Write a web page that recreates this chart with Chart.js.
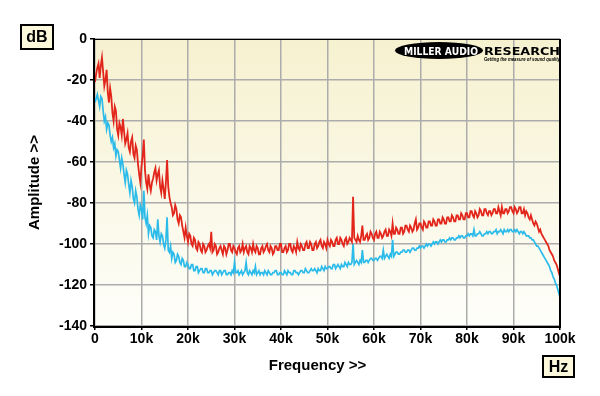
<!DOCTYPE html>
<html>
<head>
<meta charset="utf-8">
<script src="https://cdn.jsdelivr.net/npm/chart.js@4.4.1/dist/chart.umd.min.js"></script>
<style>
  html, body { margin: 0; padding: 0; background: #ffffff; }
  #wrap { width: 600px; height: 396px; position: relative; }
</style>
</head>
<body>
<div id="wrap"><canvas id="noiseChart" width="600" height="396"></canvas></div>
<script>
// FFT bins, every 250 Hz from 0 to 100 kHz
const freqStep = 250;
const binCount = 401;
const freq = Array.from({ length: binCount }, (_, i) => i * freqStep);

const xTicks = [0, 10000, 20000, 30000, 40000, 50000, 60000, 70000, 80000, 90000, 100000];
const yTicks = [0, -20, -40, -60, -80, -100, -120, -140];

// red trace (dB), one row = 5 kHz
const redDb = [
  -21, -17, -14, -12, -19, -13, -9, -16, -23, -20, -15, -26, -31, -24, -28, -36, -40, -33, -35, -44,
  -47, -41, -43, -47, -39, -45, -51, -49, -46, -53, -55, -50, -48, -56, -58, -52, -54, -61, -66, -70,
  -62, -57, -49, -64, -70, -73, -66, -71, -74, -70, -68, -65, -63, -69, -66, -64, -72, -75, -69, -73,
  -78, -70, -59, -72, -77, -80, -82, -86, -85, -81, -83, -88, -90, -86, -87, -91, -94, -97, -92, -96,
  -99, -95, -96, -100, -101, -97, -98, -102, -103, -99, -100, -103, -104, -100, -101, -104, -103, -101, -100, -102,
  -94, -104, -103, -100, -101, -105, -104, -102, -101, -103, -105, -101, -102, -105, -103, -100, -100, -103, -104, -101,
  -102, -104, -105, -102, -101, -104, -103, -100, -104, -102, -101, -104, -105, -101, -102, -104, -100, -103, -104, -101,
  -102, -105, -105, -102, -101, -104, -103, -101, -100, -103, -104, -101, -102, -105, -104, -101, -101, -103, -103, -100,
  -100, -104, -104, -102, -101, -104, -103, -100, -100, -103, -104, -101, -102, -104, -99, -102, -103, -100, -101, -103,
  -103, -100, -99, -102, -102, -99, -100, -103, -103, -100, -99, -102, -101, -99, -98, -101, -102, -99, -100, -102,
  -98, -100, -101, -98, -99, -101, -101, -98, -97, -100, -100, -97, -98, -100, -101, -98, -97, -100, -99, -97,
  -98, -99, -77, -97, -98, -99, -96, -98, -99, -96, -91, -98, -98, -96, -95, -98, -97, -94, -95, -97,
  -98, -95, -94, -97, -97, -94, -95, -97, -96, -94, -93, -96, -96, -93, -94, -96, -90, -95, -95, -92,
  -93, -95, -95, -92, -92, -95, -94, -91, -91, -93, -94, -91, -92, -94, -93, -90, -88, -93, -92, -90,
  -90, -92, -93, -89, -90, -92, -92, -89, -89, -91, -91, -88, -89, -91, -91, -88, -88, -90, -90, -87,
  -88, -90, -90, -87, -87, -89, -89, -86, -87, -89, -89, -86, -86, -88, -88, -85, -86, -88, -88, -85,
  -85, -87, -87, -84, -84, -86, -87, -84, -85, -87, -86, -83, -84, -86, -86, -83, -83, -85, -86, -84,
  -84, -86, -85, -83, -83, -85, -85, -82, -84, -86, -82, -85, -85, -83, -83, -85, -84, -82, -82, -84,
  -85, -82, -83, -85, -84, -82, -82, -85, -85, -83, -86, -84, -85, -87, -88, -86, -88, -90, -91, -89,
  -90, -92, -94, -93, -95, -96, -97, -98, -99, -100, -101, -103, -104, -105, -106, -108, -109, -110, -112, -114,
  -116
];

// cyan trace (dB), one row = 5 kHz
const cyanDb = [
  -31, -29, -27, -30, -33, -28, -29, -35, -40, -38, -44, -41, -42, -47, -50, -48, -53, -51, -57, -54,
  -55, -59, -63, -58, -61, -66, -70, -64, -66, -71, -75, -69, -72, -78, -80, -74, -77, -83, -86, -81,
  -83, -88, -74, -87, -90, -86, -95, -91, -92, -96, -97, -93, -94, -98, -88, -96, -99, -95, -96, -100,
  -102, -98, -87, -103, -104, -101, -107, -104, -105, -109, -108, -105, -106, -109, -110, -107, -108, -111, -111, -109,
  -110, -112, -112, -110, -110, -113, -113, -111, -111, -114, -113, -112, -112, -114, -114, -112, -112, -114, -114, -113,
  -113, -115, -114, -113, -113, -114, -115, -113, -113, -115, -114, -113, -113, -115, -115, -114, -114, -115, -113, -114,
  -109, -114, -114, -113, -115, -114, -113, -115, -114, -113, -109, -114, -115, -113, -114, -115, -113, -114, -111, -115,
  -114, -113, -115, -114, -114, -115, -113, -114, -115, -113, -114, -115, -115, -114, -114, -113, -113, -115, -115, -114,
  -114, -115, -115, -113, -114, -115, -113, -114, -114, -115, -115, -113, -113, -114, -114, -115, -114, -113, -113, -114,
  -114, -112, -113, -114, -114, -113, -112, -113, -113, -112, -113, -114, -112, -113, -113, -111, -112, -113, -111, -112,
  -112, -111, -111, -112, -112, -110, -110, -112, -111, -110, -111, -112, -110, -111, -111, -109, -110, -111, -109, -110,
  -110, -109, -100, -110, -109, -108, -109, -110, -108, -109, -103, -109, -109, -108, -108, -109, -108, -107, -107, -108,
  -108, -107, -107, -108, -107, -106, -106, -107, -103, -107, -106, -105, -106, -107, -105, -106, -98, -106, -105, -104,
  -104, -105, -105, -104, -104, -103, -103, -104, -104, -103, -103, -104, -103, -102, -102, -103, -103, -102, -102, -101,
  -102, -101, -101, -102, -101, -100, -101, -100, -100, -101, -100, -99, -100, -99, -99, -100, -99, -98, -99, -98,
  -98, -99, -99, -98, -98, -97, -98, -97, -97, -98, -98, -97, -97, -96, -97, -96, -96, -97, -97, -96,
  -96, -95, -96, -95, -95, -96, -93, -96, -96, -95, -95, -94, -95, -96, -96, -95, -95, -94, -95, -94,
  -94, -95, -95, -94, -94, -93, -95, -94, -94, -93, -94, -95, -93, -94, -94, -93, -94, -93, -93, -94,
  -94, -93, -94, -93, -94, -95, -94, -94, -95, -94, -95, -96, -96, -96, -97, -97, -98, -98, -99, -100,
  -101, -101, -102, -103, -104, -105, -106, -107, -108, -109, -110, -111, -113, -114, -116, -117, -119, -120, -122, -124,
  -126
];

const FONT = "'Liberation Sans', Arial, sans-serif";

function toPoints(values) {
  return values.map((v, i) => ({ x: freq[i], y: v }));
}

function labelBox(ctx, text, x, y, w, h) {
  ctx.save();
  ctx.fillStyle = "#fbf8dc";
  ctx.fillRect(x, y, w, h);
  ctx.strokeStyle = "#000";
  ctx.lineWidth = 2;
  ctx.strokeRect(x, y, w, h);
  ctx.fillStyle = "#000";
  ctx.font = "bold 16px " + FONT;
  ctx.textAlign = "center";
  ctx.textBaseline = "middle";
  ctx.fillText(text, x + w / 2, y + h / 2 + 1);
  ctx.restore();
}

// squeeze/stretch a text into a given width
function fitText(ctx, text, x, y, width) {
  const w = ctx.measureText(text).width;
  ctx.save();
  ctx.translate(x, y);
  ctx.scale(width / w, 1);
  ctx.textAlign = "left";
  ctx.fillText(text, 0, 0);
  ctx.restore();
}

const decorPlugin = {
  id: "decor",
  beforeDraw(chart) {
    const { ctx, chartArea: a } = chart;
    const g = ctx.createLinearGradient(0, a.top, 0, a.bottom);
    g.addColorStop(0, "#f6f1cf");
    g.addColorStop(1, "#fefefa");
    ctx.save();
    ctx.fillStyle = g;
    ctx.fillRect(a.left, a.top, a.right - a.left, a.bottom - a.top);
    ctx.restore();
  },
  afterDraw(chart) {
    const { ctx, chartArea: a } = chart;
    ctx.save();
    // frame
    ctx.strokeStyle = "#000";
    ctx.lineWidth = 1;
    ctx.beginPath();
    ctx.moveTo(a.left, a.top + 0.5);
    ctx.lineTo(a.right, a.top + 0.5);
    ctx.stroke();
    ctx.lineWidth = 2;
    ctx.beginPath();
    ctx.moveTo(a.right, a.top);
    ctx.lineTo(a.right, a.bottom);
    ctx.moveTo(a.left - 1, a.top);
    ctx.lineTo(a.left - 1, a.bottom + 1);
    ctx.lineTo(a.right + 1, a.bottom + 1);
    ctx.stroke();

    // axis titles
    ctx.fillStyle = "#000";
    ctx.font = "bold 15px " + FONT;
    ctx.textAlign = "center";
    ctx.textBaseline = "middle";
    ctx.fillText("Frequency >>", (a.left + a.right) / 2 - 10, 366);
    ctx.save();
    ctx.translate(35, (a.top + a.bottom) / 2);
    ctx.rotate(-Math.PI / 2);
    ctx.fillText("Amplitude >>", 0, 0);
    ctx.restore();

    labelBox(ctx, "dB", 21, 25, 32, 24);
    labelBox(ctx, "Hz", 543, 356, 31, 21);

    // logo
    ctx.fillStyle = "#000";
    ctx.beginPath();
    ctx.ellipse(439, 50.5, 44, 8.5, 0, 0, Math.PI * 2);
    ctx.fill();
    ctx.textBaseline = "alphabetic";
    ctx.font = "900 11px 'DejaVu Sans', " + FONT;
    ctx.fillStyle = "#fff";
    fitText(ctx, "MILLER AUDIO", 404, 55, 74);
    ctx.fillStyle = "#000";
    fitText(ctx, "RESEARCH", 484, 55, 76);
    ctx.font = "italic bold 5px " + FONT;
    fitText(ctx, "Getting the measure of sound quality", 484, 61, 76);
    ctx.restore();
  }
};

new Chart(document.getElementById("noiseChart"), {
  type: "line",
  data: {
    datasets: [
      {
        data: toPoints(redDb),
        borderColor: "#e3261c",
        borderWidth: 1.8,
        pointRadius: 0,
        tension: 0
      },
      {
        data: toPoints(cyanDb),
        borderColor: "#2bbbea",
        borderWidth: 1.7,
        pointRadius: 0,
        tension: 0
      }
    ]
  },
  options: {
    responsive: false,
    animation: false,
    layout: { padding: { left: 0, top: 39, right: 40, bottom: 0 } },
    plugins: {
      legend: { display: false },
      tooltip: { enabled: false }
    },
    scales: {
      x: {
        type: "linear",
        min: 0,
        max: 100000,
        afterFit: s => { s.height = 70; },
        afterBuildTicks: s => { s.ticks = xTicks.map(v => ({ value: v })); },
        ticks: {
          color: "#000",
          font: { family: FONT, size: 14, weight: "bold" },
          padding: 1,
          maxRotation: 0,
          callback: v => (v === 0 ? "0" : v / 1000 + "k")
        },
        grid: { color: "#acacac", lineWidth: 1.5, tickColor: "#000", tickLength: 4 },
        border: { display: false }
      },
      y: {
        min: -140,
        max: 0,
        afterFit: s => { s.width = 95; },
        afterBuildTicks: s => { s.ticks = yTicks.map(v => ({ value: v })); },
        ticks: {
          color: "#000",
          font: { family: FONT, size: 14, weight: "bold" },
          padding: 3
        },
        grid: { color: "#acacac", lineWidth: 1.5, tickColor: "#000", tickLength: 5 },
        border: { display: false }
      }
    }
  },
  plugins: [decorPlugin]
});
</script>
</body>
</html>
